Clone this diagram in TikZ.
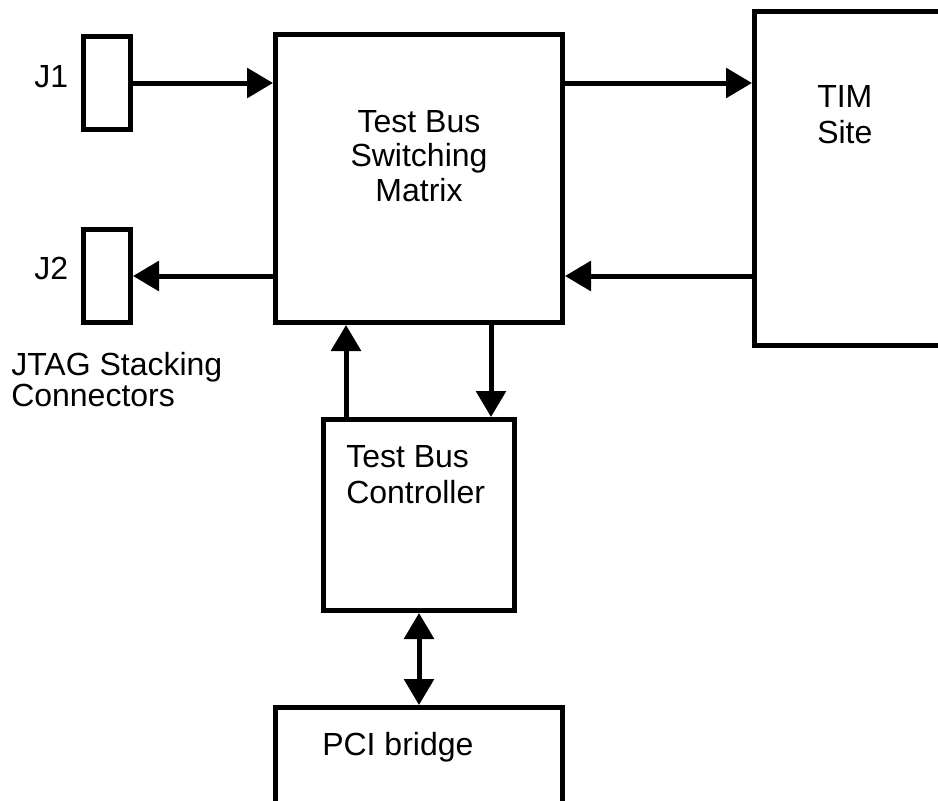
\documentclass[tikz,border=0pt]{standalone}
\usepackage{fontspec}
\setmainfont{Liberation Sans}
\usetikzlibrary{arrows.meta}
\tikzset{
  blk/.style={draw, line width=3.75pt, inner sep=0pt},
  lbl/.style={inner sep=0pt, font=\fontsize{24}{27}\selectfont},
  arr/.style={line width=3.75pt, -{Triangle[length=19.5pt,width=22pt]}},
  darr/.style={line width=3.75pt, {Triangle[length=19.5pt,width=22pt]}-{Triangle[length=19.5pt,width=22pt]}}
}

\begin{document}
\begin{tikzpicture}[x=0.75pt,y=-0.75pt]
		%%%%% START %%%%%
		\useasboundingbox (0,0) rectangle (938,800);
		
		% connectors J1 / J2
		\node[blk, minimum width=35.25pt, minimum height=69.75pt] (J1) at (107,83) {};
		\node[blk, minimum width=35.25pt, minimum height=69.75pt] (J2) at (107,276) {};
		\node[lbl, anchor=north west] (J1txt) at (34,65) {J1};
		\node[lbl, anchor=north west] (J2txt) at (34,257) {J2};
		\node[lbl, anchor=north west, align=left, font=\fontsize{24}{23.5}\selectfont] (jtag) at (11,352) {JTAG Stacking\\Connectors};
		
		% main blocks
		\node[blk, minimum width=215.25pt, minimum height=216pt] (matrix) at (419,178.5) {};
		\node[lbl, anchor=north, align=center, font=\fontsize{24}{26}\selectfont] (matrixtxt) at (419,110) {Test Bus\\Switching\\Matrix};
		
		\node[blk, minimum width=154.125pt, minimum height=250.5pt] (tim) at (857.25,178.5) {};
		\node[lbl, anchor=north west, align=left] (timtxt) at (817,85) {TIM\\Site};
		
		\node[blk, minimum width=143.25pt, minimum height=143.25pt] (ctrl) at (419,515) {};
		\node[lbl, anchor=north west, align=left] (ctrltxt) at (346,445) {Test Bus\\Controller};
		
		\node[blk, minimum width=215.25pt, minimum height=91.875pt] (pci) at (419,768.75) {};
		\node[lbl, anchor=north west] (pcitxt) at (322,732) {PCI bridge};
		
		% arrows
		\draw[arr] (J1) -- (J1 -| matrix.west);
		\draw[arr] (matrix.west |- J2) -- (J2);
		\draw[arr] (matrix.east |- J1) -- (tim.west |- J1);
		\draw[arr] (tim.west |- J2) -- (matrix.east |- J2);
		
		\coordinate (up) at (346,0);
		\coordinate (dn) at (491,0);
		\draw[arr] (ctrl.north -| up) -- (matrix.south -| up);
		\draw[arr] (matrix.south -| dn) -- (ctrl.north -| dn);
		\draw[darr] (ctrl.south) -- (pci.north);
		
		%%%%% END %%%%%
\end{tikzpicture}
\end{document}
